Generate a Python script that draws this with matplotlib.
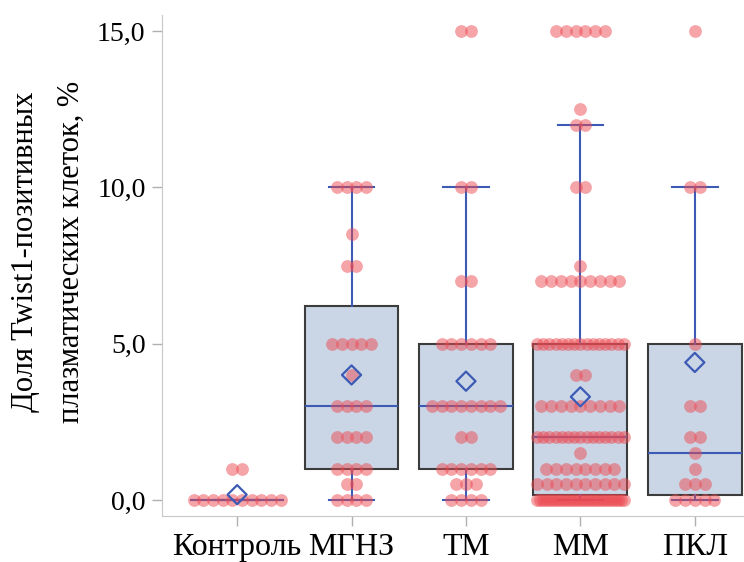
import numpy as np
import matplotlib
matplotlib.use('Agg')
import matplotlib.pyplot as plt

# categories and raw points (value -> count)
groups = ['Контроль', 'МГНЗ', 'ТМ', 'ММ', 'ПКЛ']
ctrl_pts = {0.0: 10, 1.0: 2}
mgnz_pts = {0.0: 4, 0.5: 2, 1.0: 4, 2.0: 4, 3.0: 4, 4.0: 1, 5.0: 5, 7.5: 2, 8.5: 1, 10.0: 4}
tm_pts = {0.0: 4, 0.5: 3, 1.0: 6, 2.0: 2, 3.0: 8, 5.0: 6, 7.0: 2, 10.0: 2, 15.0: 2}
mm_pts = {0.0: 30, 0.5: 10, 1.0: 8, 1.5: 1, 2.0: 15, 3.0: 9, 4.0: 2, 5.0: 15,
          7.0: 9, 7.5: 1, 10.0: 2, 12.0: 2, 12.5: 1, 15.0: 6}
pkl_pts = {0.0: 5, 0.5: 3, 1.0: 1, 1.5: 1, 2.0: 2, 3.0: 2, 5.0: 1, 10.0: 2, 15.0: 1}
all_pts = [ctrl_pts, mgnz_pts, tm_pts, mm_pts, pkl_pts]

# box statistics as drawn
q1_vals = [0.0, 1.0, 1.0, 0.15, 0.15]
med_vals = [0.0, 3.0, 3.0, 2.0, 1.5]
q3_vals = [0.0, 6.2, 5.0, 5.0, 5.0]
lo_vals = [0.0, 0.0, 0.0, 0.0, 0.0]
hi_vals = [0.0, 10.0, 10.0, 12.0, 10.0]
mean_vals = [0.17, 4.0, 3.8, 3.3, 4.4]

yticks = [0, 5, 10, 15]
ytick_labels = ['0,0', '5,0', '10,0', '15,0']
ylabel = 'Доля Twist1-позитивных\nплазматических клеток, %'

plt.rcParams['font.family'] = ['Liberation Serif', 'DejaVu Serif']

fig = plt.figure(figsize=(7.44, 5.62), dpi=100)
ax = fig.add_axes([0.218, 0.082, 0.782, 0.891])

blue = '#3d5bb5'
stats = []
for i in range(len(groups)):
    stats.append({'q1': q1_vals[i], 'med': med_vals[i], 'q3': q3_vals[i],
                  'whislo': lo_vals[i], 'whishi': hi_vals[i], 'mean': mean_vals[i],
                  'fliers': []})

pos = np.arange(len(groups))
ax.bxp(stats, positions=pos, widths=0.82, capwidths=0.4, patch_artist=True,
       showmeans=False, showfliers=False,
       boxprops=dict(facecolor='#cad6e6', edgecolor='#3c3c3c', linewidth=1.5),
       whiskerprops=dict(color=blue, linewidth=1.5),
       capprops=dict(color=blue, linewidth=1.5),
       medianprops=dict(color=blue, linewidth=1.5),
       zorder=2)

# simple swarm: spread equal values side by side
for i, pts in enumerate(all_pts):
    xs, ys = [], []
    for v, k in pts.items():
        step = 0.085 if k < 2 else min(0.085, 0.76 / (k - 1))
        off = (np.arange(k) - (k - 1) / 2) * step
        xs.extend(pos[i] + off)
        ys.extend([v] * k)
    ax.scatter(xs, ys, s=85, color='#ec4a52', alpha=0.5, linewidths=0, zorder=3)

# mean markers on top
ax.scatter(pos, mean_vals, marker='D', s=95, facecolors='none', edgecolors=blue,
           linewidths=1.6, zorder=4)

ax.set_xlim(-0.655, 4.43)
ax.set_ylim(-0.51, 15.51)
ax.set_xticks(pos)
ax.set_xticklabels(groups, fontsize=23)
ax.set_yticks(yticks)
ax.set_yticklabels(ytick_labels, fontsize=20)
ax.set_ylabel(ylabel, fontsize=22, linespacing=1.75)
ax.yaxis.set_label_coords(-0.132, 0.527)
ax.tick_params(axis='both', color='#b0b0b0', length=7, width=1, pad=5)

for s in ['top', 'right']:
    ax.spines[s].set_visible(False)
for s in ['left', 'bottom']:
    ax.spines[s].set_color('#c8c8c8')

fig.savefig('out.png', dpi=100)
